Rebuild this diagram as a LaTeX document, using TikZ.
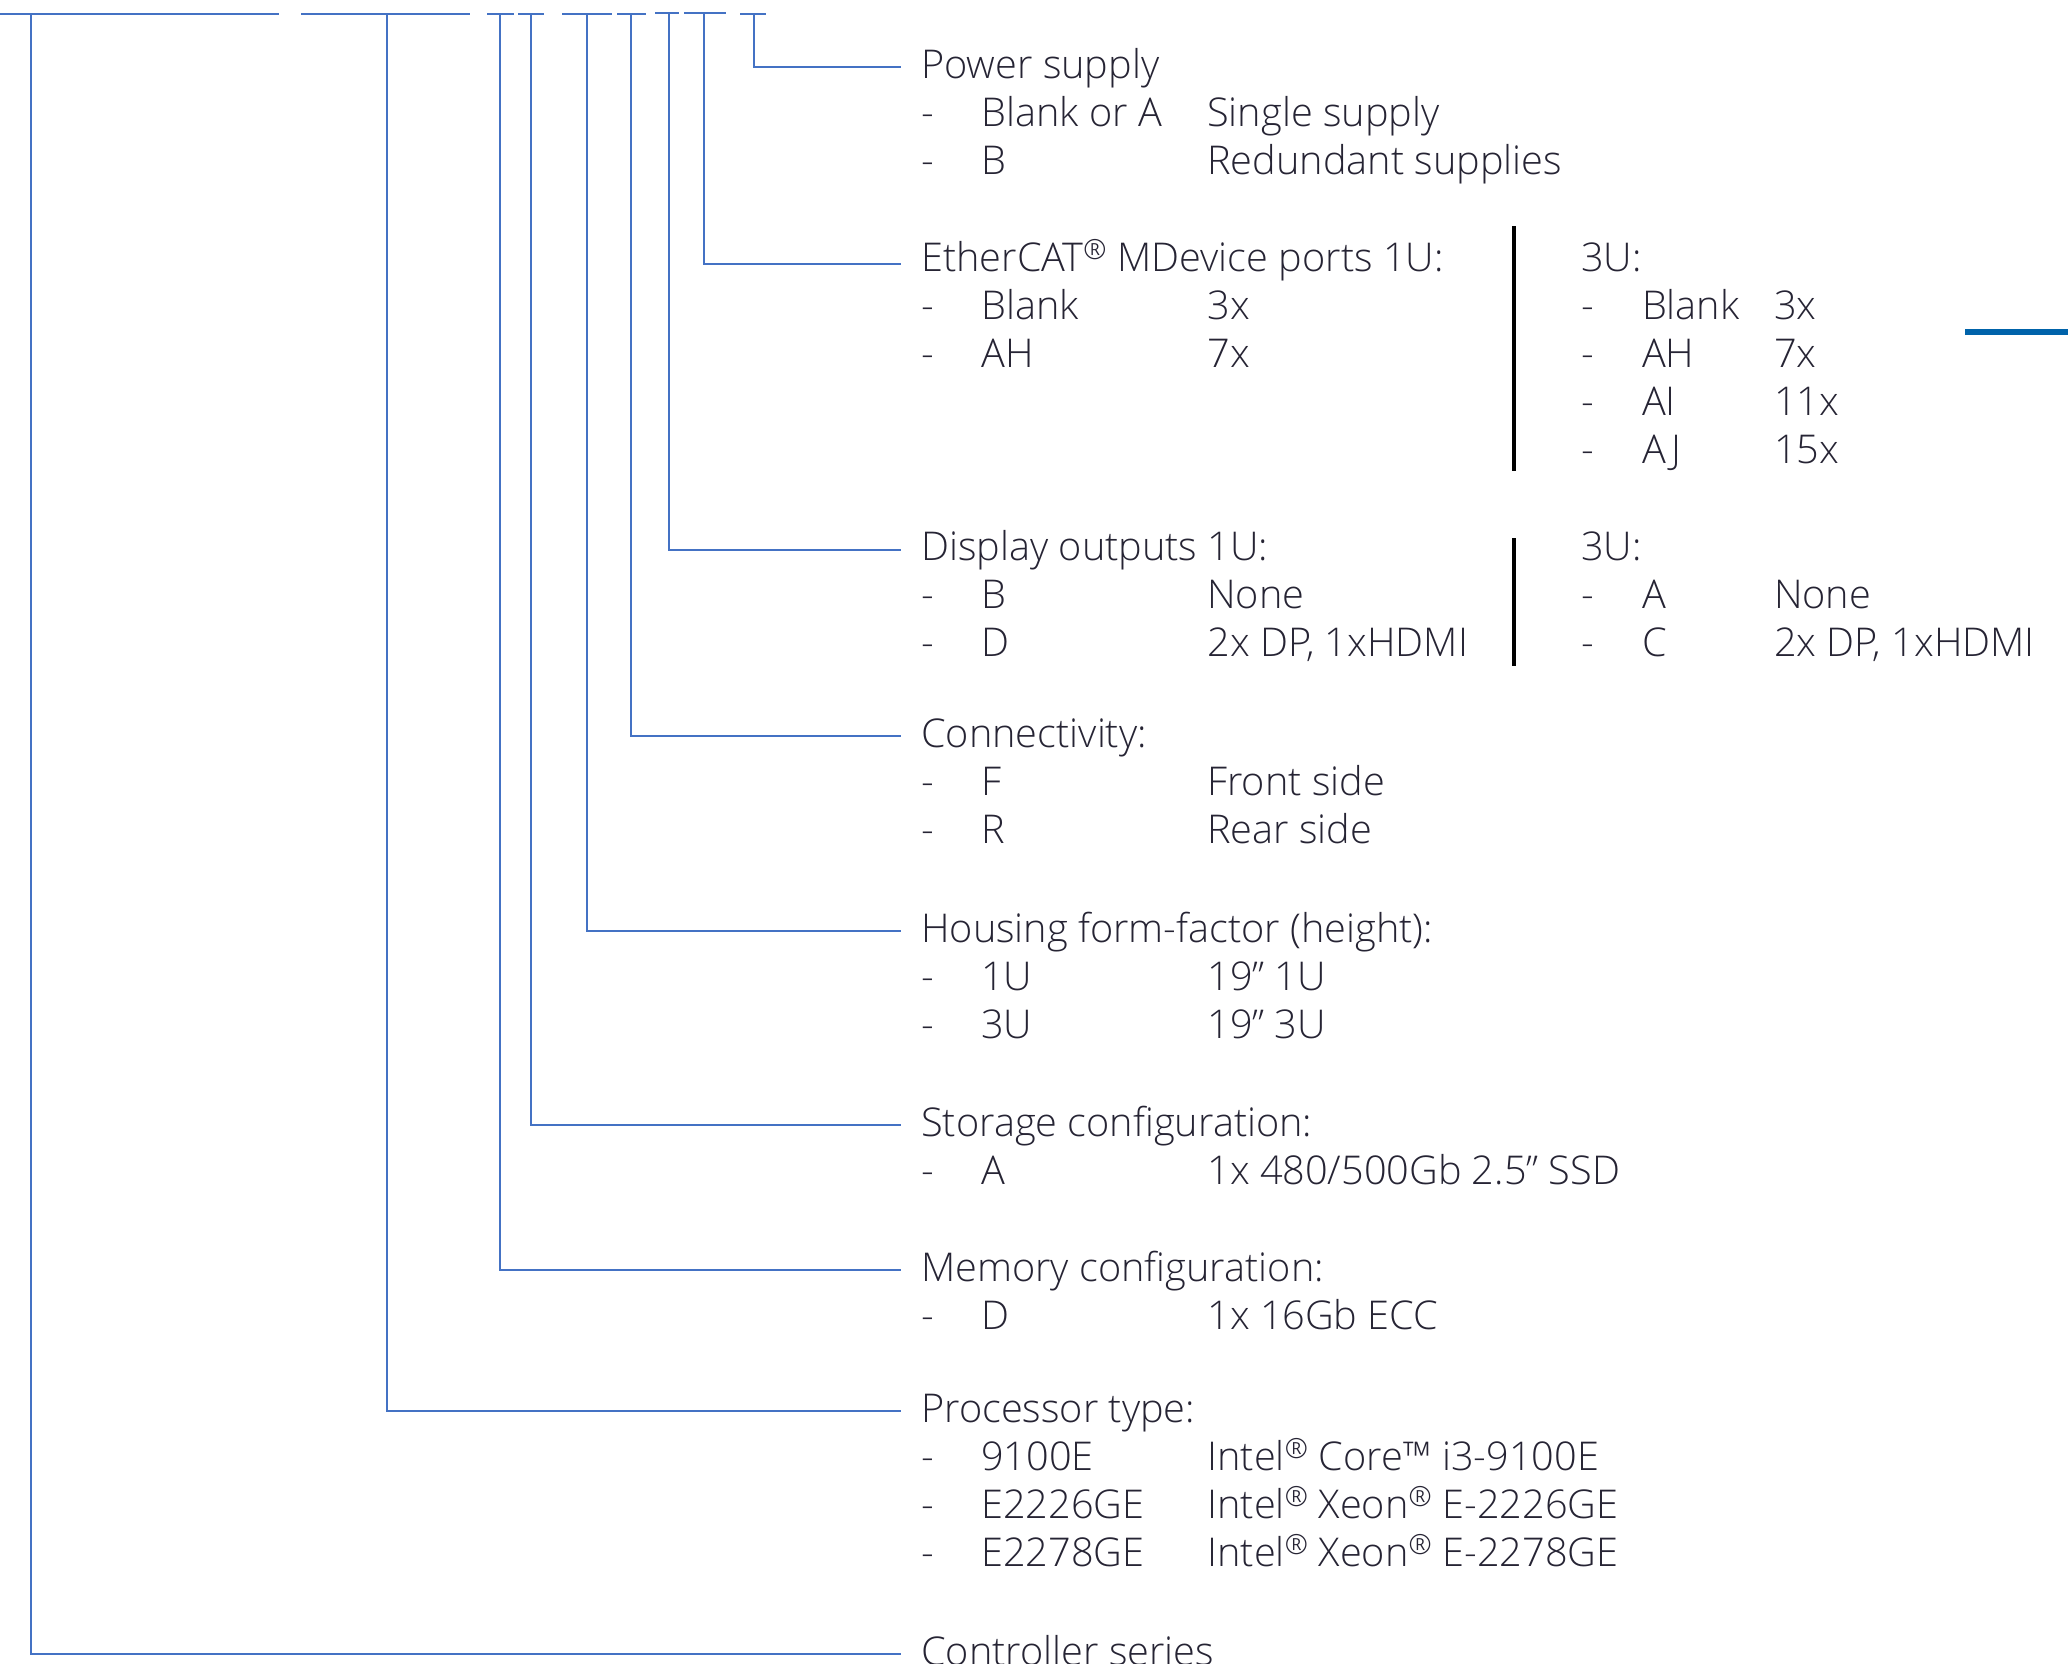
\documentclass[tikz,border=0pt]{standalone}
\usepackage{fontspec}
\setmainfont{Open Sans Light}
\usepackage{xcolor}
\usepackage{tikz}
\usetikzlibrary{calc,positioning}
\definecolor{codeBlue}{RGB}{68,114,196}
\definecolor{barBlue}{RGB}{0,99,170}
\definecolor{txtDark}{RGB}{38,36,52}
% one option line: dash, code, meaning
\newcommand{\optA}[2]{\makebox[1.5cm][l]{-}\makebox[5.65cm][l]{#1}#2}
\newcommand{\optB}[2]{\makebox[1.52cm][l]{-}\makebox[3.3cm][l]{#1}#2}
\newcommand{\reg}{\textsuperscript{\textregistered}}

\begin{document}
\begin{tikzpicture}[x=0.025cm,y=-0.025cm,
  conn/.style={codeBlue, line width=0.04cm},
  code/.style={codeBlue, line width=0.05cm},
  sep/.style={black, line width=0.1cm},
  txt/.style={anchor=mid west, inner xsep=0.5cm, inner ysep=0pt, text=txtDark,
    font=\fontsize{28.2}{34}\selectfont}]
\useasboundingbox (0,0) rectangle (2068,1663);

% code placeholders
\draw[code] (0,14)--(279,14);
\draw[code] (301,14)--(470,14);
\draw[code] (487,14)--(514,14);
\draw[code] (518,14)--(544,14);
\draw[code] (562,14)--(612,14);
\draw[code] (617,14.5)--(646,14.5);
\draw[code] (655,13.5)--(679,13.5);
\draw[code] (684,13.5)--(726,13.5);
\draw[code] (740,14)--(766,14);
\coordinate (cSer) at (31,14);
\coordinate (cProc) at (387,14);
\coordinate (cMem) at (500,14);
\coordinate (cStor) at (531,14);
\coordinate (cHous) at (587,14);
\coordinate (cConn) at (631,14);
\coordinate (cDisp) at (669,14);
\coordinate (cEcat) at (704,14);
\coordinate (cPow) at (754,14);

% headings
\node[txt] (pow) at (901,75) {Power supply};
\node[txt] (ecat) at (901,268) {EtherCAT\reg{} MDevice ports 1U:};
\node[txt] (disp) at (901,557) {Display outputs 1U:};
\node[txt] (conn) at (901,744) {Connectivity:};
\node[txt] (hous) at (901,939) {Housing form-factor (height):};
\node[txt] (stor) at (901,1133) {Storage configuration:};
\node[txt] (mem) at (901,1278) {Memory configuration:};
\node[txt] (proc) at (901,1419) {Processor type:};
\node[txt] (ser) at (901,1662) {Controller series};

% connectors
\draw[conn] (cPow) |- ([yshift=0.2cm]pow.mid west);
\draw[conn] (cEcat) |- ([yshift=0.1cm]ecat.mid west);
\draw[conn] (cDisp) |- ([yshift=0.175cm]disp.mid west);
\draw[conn] (cConn) |- ([yshift=0.2cm]conn.mid west);
\draw[conn] (cHous) |- ([yshift=0.2cm]hous.mid west);
\draw[conn] (cStor) |- ([yshift=0.2cm]stor.mid west);
\draw[conn] (cMem) |- ([yshift=0.2cm]mem.mid west);
\draw[conn] (cProc) |- ([yshift=0.2cm]proc.mid west);
\draw[conn] (cSer) |- ([yshift=0.2cm]ser.mid west);

% options
\node[txt] (pow1) at (901,123) {\optA{Blank or A}{Single supply}};
\node[txt] (pow2) at (901,171) {\optA{B}{Redundant supplies}};

\node[txt] (ecat1) at (901,316) {\optA{Blank}{3x}};
\node[txt] (ecat2) at (901,364) {\optA{AH}{7x}};
\node[txt] (ecatU) at (1561,268) {3U:};
\node[txt] (ecatU1) at (1561,316) {\optB{Blank}{3x}};
\node[txt] (ecatU2) at (1561,364) {\optB{AH}{7x}};
\node[txt] (ecatU3) at (1561,412) {\optB{AI}{11x}};
\node[txt] (ecatU4) at (1561,460) {\optB{AJ}{15x}};

\node[txt] (disp1) at (901,605) {\optA{B}{None}};
\node[txt] (disp2) at (901,653) {\optA{D}{2x DP, 1xHDMI}};
\node[txt] (dispU) at (1561,557) {3U:};
\node[txt] (dispU1) at (1561,605) {\optB{A}{None}};
\node[txt] (dispU2) at (1561,653) {\optB{C}{2x DP, 1xHDMI}};

\node[txt] (conn1) at (901,792) {\optA{F}{Front side}};
\node[txt] (conn2) at (901,840) {\optA{R}{Rear side}};

\node[txt] (hous1) at (901,987) {\optA{1U}{19” 1U}};
\node[txt] (hous2) at (901,1035) {\optA{3U}{19” 3U}};

\node[txt] (stor1) at (901,1181) {\optA{A}{1x 480/500Gb 2.5” SSD}};

\node[txt] (mem1) at (901,1326) {\optA{D}{1x 16Gb ECC}};

\node[txt] (proc1) at (901,1467) {\optA{9100E}{Intel\reg{} Core™ i3-9100E}};
\node[txt] (proc2) at (901,1515) {\optA{E2226GE}{Intel\reg{} Xeon\reg{} E-2226GE}};
\node[txt] (proc3) at (901,1563) {\optA{E2278GE}{Intel\reg{} Xeon\reg{} E-2278GE}};

% 1U / 3U separators
\draw[sep] (1514,226)--(1514,471);
\draw[sep] (1514,538)--(1514,666);

% edge mark
\draw[barBlue, line width=0.15cm] (1965,332)--(2068,332);
\end{tikzpicture}
\end{document}
